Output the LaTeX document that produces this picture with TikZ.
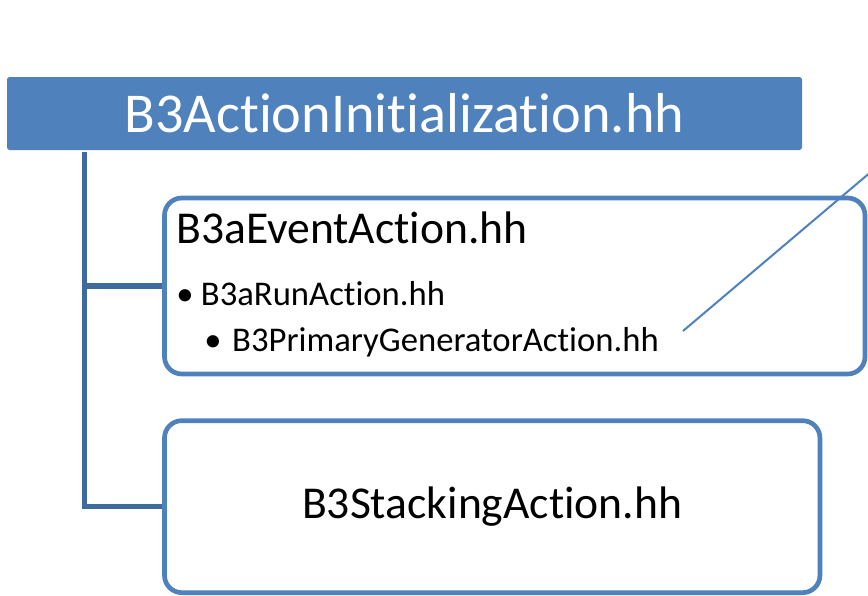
\documentclass[tikz,border=0pt]{standalone}
\usepackage{fontspec}
\setmainfont{Carlito}[Ligatures={NoCommon, NoContextual}]
\usepackage{tikz}
\usetikzlibrary{positioning, calc}
\definecolor{figheadfill}{HTML}{4F81BD}
\definecolor{figboxline}{HTML}{4F81BD}
\definecolor{figlinkblue}{HTML}{3F6A9C}
\definecolor{figcallout}{HTML}{4F81BD}

\begin{document}
\begin{tikzpicture}[
  x=0.75pt, y=-0.75pt,
  figheadbox/.style={
    rectangle, fill=figheadfill, text=white,
    minimum width=596.25pt, minimum height=54.75pt,
    inner sep=0pt, rounded corners=2pt,
    font=\fontsize{42.2}{48}\selectfont,
  },
  figchildbox/.style={
    rectangle, draw=figboxline, line width=3.5pt, fill=white,
    inner sep=0pt, rounded corners=13pt,
  },
  figlabel/.style={
    inner sep=0pt, anchor=base west, text=black,
  },
  figlink/.style={
    draw=figlinkblue, line width=4pt,
  },
]
\path[use as bounding box] (0,0) rectangle (868,596);
\clip (0,0) rectangle (868,596);
\node[figheadbox] (figtop) at (404.5,113.5) {B3ActionInitialization.hh};
\node[figchildbox, minimum width=525.4pt, minimum height=132pt] (figevent) at (514.75,286) {};
\node[figchildbox, minimum width=491.6pt, minimum height=129pt,
  font=\fontsize{34.2}{40}\selectfont,
  below=31.5pt of figevent.south west, anchor=north west] (figstack) {B3StackingAction.hh};
\node[figlabel, font=\fontsize{34.2}{40}\selectfont] (figeventtitle) at (176,243.3) {B3aEventAction.hh};
\node[figlabel, font=\fontsize{26}{30}\selectfont] (figrun) at (176,305) {\makebox[18.5pt][l]{•}B3aRunAction.hh};
\node[figlabel, font=\fontsize{26}{30}\selectfont] (figprimary) at (204,351.7) {\makebox[21pt][l]{•}B3PrimaryGeneratorAction.hh};
\coordinate (figspine) at (84.5,152);
\draw[figlink] (figspine) |- (figstack.west);
\draw[figlink] (figspine |- figevent.west) -- (figevent.west);
\coordinate (figcalloutfoot) at (683,331);
\coordinate (figcallouttip) at (905,143);
\draw[figcallout, line width=1.5pt] (figcalloutfoot) -- (figcallouttip);
\end{tikzpicture}
\end{document}
